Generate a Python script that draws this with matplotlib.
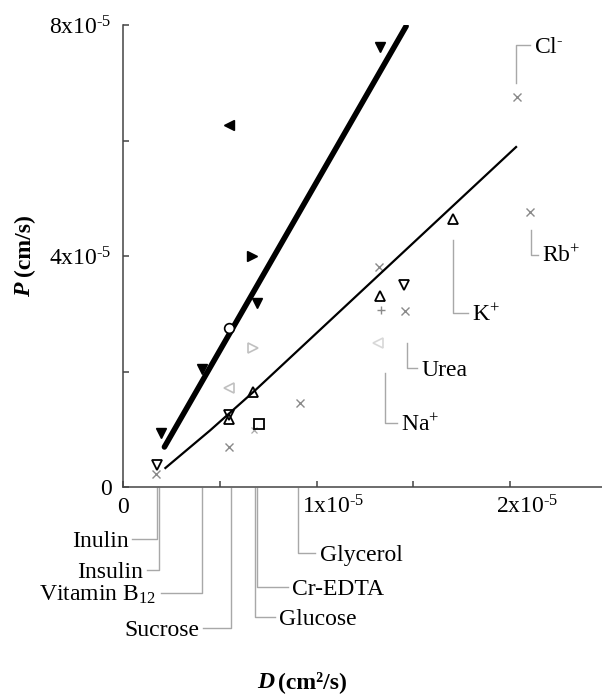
import numpy as np
import matplotlib
matplotlib.use("Agg")
import matplotlib.pyplot as plt

plt.rcParams['font.family'] = ['Liberation Serif', 'DejaVu Serif']
plt.rcParams['mathtext.fontset'] = 'custom'
plt.rcParams['mathtext.rm'] = 'Liberation Serif'
plt.rcParams['mathtext.it'] = 'Liberation Serif:italic'
plt.rcParams['mathtext.bf'] = 'Liberation Serif:bold'

E = 1e-5

# values, in units of 1e-5
filled_down_D = [1.329, 0.694, 0.410, 0.194]
filled_down_P = [7.62, 3.19, 2.04, 0.94]
filled_left_D = [0.550]
filled_left_P = [6.27]
filled_right_D = [0.668]
filled_right_P = [4.00]

circle_D = [0.546]
circle_P = [2.75]
open_up_D = [0.674, 0.546, 1.706, 1.329]
open_up_P = [1.645, 1.177, 4.64, 3.31]
open_down_D = [0.546, 0.178, 1.453]
open_down_P = [1.247, 0.38, 3.50]
square_D = [0.705]
square_P = [1.09]

cross_D = [0.173, 0.550, 0.916, 1.324, 1.458, 2.103, 2.036]
cross_P = [0.225, 0.69, 1.455, 3.81, 3.05, 4.76, 6.75]
small_cross_D = [0.679]
small_cross_P = [0.99]
plus_D = [1.334]
plus_P = [3.065]
light_right_D = [0.674]
light_right_P = [2.41]
light_left_D = [0.546]
light_left_P = [1.71]
faint_left_D = [1.319]
faint_left_P = [2.49]

thick_D = [0.214, 1.463]
thick_P = [0.693, 7.98]
thin_D = [0.219, 0.45, 0.679, 2.031]
thin_P = [0.329, 0.98, 1.662, 5.887]

# labels under the x axis: name, D of leader, level, end of elbow
bottom_names = ['Inulin', 'Insulin', 'Vitamin B$_{12}$', 'Sucrose', 'Glucose', 'Cr-EDTA', 'Glycerol']
bottom_D = [0.178, 0.188, 0.410, 0.560, 0.684, 0.694, 0.906]
bottom_level = [-0.90, -1.437, -1.835, -2.44, -2.25, -1.73, -1.143]
bottom_end = [0.049, 0.126, 0.194, 0.415, 0.787, 0.854, 0.994]

# labels inside the plot
ion_names = ['Cl$^{\\text{-}}$', 'Rb$^{+}$', 'K$^{+}$', 'Urea', 'Na$^{+}$']
ion_D = [2.031, 2.108, 1.706, 1.468, 1.355]
ion_from = [7.0, 4.45, 4.28, 2.49, 1.97]
ion_to = [7.65, 4.02, 3.01, 2.06, 1.11]
ion_end = [2.103, 2.145, 1.783, 1.52, 1.417]

fig = plt.figure(figsize=(6.02, 6.94), dpi=100)
ax = fig.add_axes([123 / 602, 207 / 694, 1 - 123 / 602, 462 / 694])

def s(v):
    return np.array(v) * E

ax.plot(s(thick_D), s(thick_P), color='black', lw=4.0, solid_capstyle='round', zorder=3)
ax.plot(s(thin_D), s(thin_P), color='black', lw=1.6, solid_joinstyle='round', zorder=3)

ax.plot(s(filled_down_D), s(filled_down_P), 'v', color='black', ms=7.5, ls='none', zorder=4)
ax.plot(s(filled_left_D), s(filled_left_P), '<', color='black', ms=7.5, ls='none', zorder=4)
ax.plot(s(filled_right_D), s(filled_right_P), '>', color='black', ms=7.5, ls='none', zorder=4)
ax.plot(s(circle_D), s(circle_P), 'o', mfc='white', mec='black', mew=1.2, ms=7, ls='none', zorder=4)
ax.plot(s(open_up_D), s(open_up_P), '^', mfc='none', mec='black', mew=1.3, ms=7.5, ls='none', zorder=4)
ax.plot(s(open_down_D), s(open_down_P), 'v', mfc='none', mec='black', mew=1.3, ms=7.5, ls='none', zorder=4)
ax.plot(s(square_D), s(square_P), 's', mfc='none', mec='black', mew=1.3, ms=7, ls='none', zorder=4)
ax.plot(s(cross_D), s(cross_P), 'x', color='#8a8a8a', mew=1.0, ms=6, ls='none', zorder=2)
ax.plot(s(small_cross_D), s(small_cross_P), 'x', color='#aaaaaa', mew=0.9, ms=4, ls='none', zorder=2)
ax.plot(s(plus_D), s(plus_P), '+', color='#8a8a8a', mew=1.0, ms=6, ls='none', zorder=2)
ax.plot(s(light_right_D), s(light_right_P), '>', mfc='none', mec='#c0c0c0', mew=1.2, ms=7.5, ls='none', zorder=2)
ax.plot(s(light_left_D), s(light_left_P), '<', mfc='none', mec='#c0c0c0', mew=1.2, ms=7.5, ls='none', zorder=2)
ax.plot(s(faint_left_D), s(faint_left_P), '<', mfc='none', mec='#d8d8d8', mew=1.2, ms=7.5, ls='none', zorder=2)

lead = dict(color='#a8a8a8', lw=1.0, clip_on=False, zorder=1)
fs = 17

for name, d, lev, end in zip(bottom_names, bottom_D, bottom_level, bottom_end):
    ax.plot([d * E, d * E, end * E], [-0.02 * E, lev * E, lev * E], **lead)
    if end < d:
        ax.annotate(name, xy=(end * E, lev * E), xytext=(-3, -5.5), textcoords='offset points',
                    ha='right', va='baseline', fontsize=fs, annotation_clip=False)
    else:
        ax.annotate(name, xy=(end * E, lev * E), xytext=(3, -5.5), textcoords='offset points',
                    ha='left', va='baseline', fontsize=fs, annotation_clip=False)

for name, d, p0, p1, end in zip(ion_names, ion_D, ion_from, ion_to, ion_end):
    ax.plot([d * E, d * E, end * E], [p0 * E, p1 * E, p1 * E], **lead)
    ax.annotate(name, xy=(end * E, p1 * E), xytext=(3, -5.5), textcoords='offset points',
                ha='left', va='baseline', fontsize=fs, annotation_clip=False)

ax.set_xlim(0, 2.475 * E)
ax.set_ylim(0, 8 * E)
for sp in ['top', 'right']:
    ax.spines[sp].set_visible(False)
for sp in ['left', 'bottom']:
    ax.spines[sp].set_color('#444444')
    ax.spines[sp].set_linewidth(1.1)

exp = '$^{\\text{-5}}$'
ax.set_xticks(np.arange(0, 2.5, 0.5) * E)
ax.set_xticklabels([])
ax.set_yticks(np.arange(0, 8.1, 2) * E)
ax.set_yticklabels(['0', '', '4x10' + exp, '', '8x10' + exp], fontsize=fs)
ax.tick_params(direction='in', length=4.5, width=1.1, color='#444444')
ax.tick_params(axis='y', pad=8)

xlabels = ['0', '1x10' + exp, '2x10' + exp]
xshift = [0, 12, 12]
for v, lab, dx in zip([0, 1, 2], xlabels, xshift):
    ax.annotate(lab, xy=(v * E, 0), xytext=(dx, -19), textcoords='offset points',
                ha='center', va='baseline', fontsize=fs, annotation_clip=False)

fig.text(257 / 602, 6 / 694, 'D', fontsize=fs, fontweight='bold', fontstyle='italic',
         ha='left', va='baseline')
fig.text(278 / 602, 6 / 694, '(cm\u00b2/s)', fontsize=fs, fontweight='bold',
         ha='left', va='baseline')
fig.text(35 / 602, (694 - 297) / 694, 'P', fontsize=fs, fontweight='bold', fontstyle='italic',
         rotation=90, ha='right', va='bottom')
fig.text(35 / 602, (694 - 276) / 694, '(cm/s)', fontsize=fs, fontweight='bold',
         rotation=90, ha='right', va='bottom')

fig.savefig('out.png', dpi=100)
